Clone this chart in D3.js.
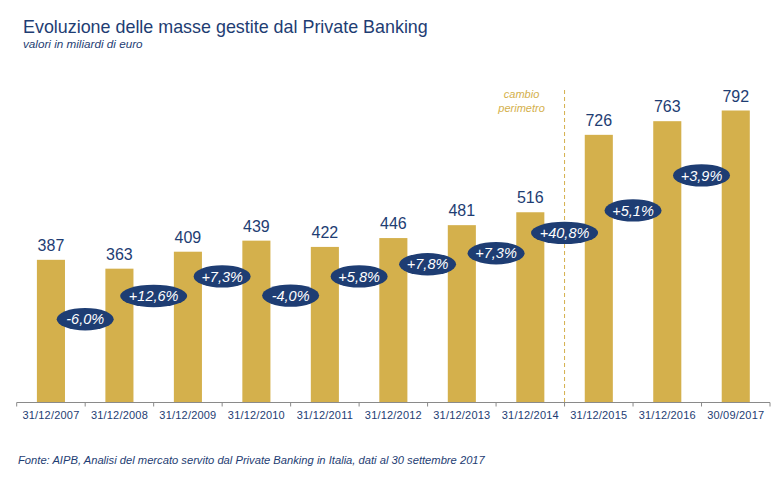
<!DOCTYPE html>
<html><head><meta charset="utf-8">
<script src="https://cdn.jsdelivr.net/npm/d3@7"></script>
<style>body{margin:0;background:#fff;}svg{display:block;font-family:"Liberation Sans",Arial,Helvetica,sans-serif;}</style>
</head><body><svg id="c" width="778" height="478"></svg>
<script>
const categories = ["31/12/2007","31/12/2008","31/12/2009","31/12/2010","31/12/2011","31/12/2012","31/12/2013","31/12/2014","31/12/2015","31/12/2016","30/09/2017"];
const values = [387,363,409,439,422,446,481,516,726,763,792];
const growthLabels = ["-6,0%","+12,6%","+7,3%","-4,0%","+5,8%","+7,8%","+7,3%","+40,8%","+5,1%","+3,9%"];
// vertical level (in value units) at which each growth badge sits
const growthLevel = [226,289,342,290,342,375,405,460,521,616];
const breakIndex = 8; // "cambio perimetro" before this category

const navy = "#1e3d73", gold = "#d4b04c";
const svg = d3.select("#c");
const x = d3.scaleBand().domain(categories).range([16.7, 770]).paddingInner(0.59).paddingOuter(0.295);
const y = d3.scaleLinear().domain([0, 792]).range([402.5, 110.5]);

svg.append("text").attr("x",23).attr("y",33).attr("fill",navy).attr("font-size",17.9).text("Evoluzione delle masse gestite dal Private Banking");
svg.append("text").attr("x",23).attr("y",48).attr("fill",navy).attr("font-size",11.7).attr("font-style","italic").text("valori in miliardi di euro");

svg.selectAll("rect.bar").data(values).join("rect").attr("class","bar")
  .attr("x",(d,i)=>x(categories[i])).attr("width",x.bandwidth())
  .attr("y",d=>y(d)).attr("height",d=>y(0)-y(d)).attr("fill",gold);

svg.selectAll("text.val").data(values).join("text").attr("class","val")
  .attr("x",(d,i)=>x(categories[i])+x.bandwidth()/2).attr("y",d=>y(d)-9)
  .attr("text-anchor","middle").attr("fill",navy).attr("font-size",16).text(d=>d);

// axis
const step = x.step();
const edges = categories.map(c=>x(c)-x.paddingOuter()*step).concat([770]);
const ax = svg.append("g");
ax.append("line").attr("x1",16.7).attr("x2",770).attr("y1",402.5).attr("y2",402.5).attr("stroke","#8a8a8a").attr("stroke-width",1);
ax.selectAll("line.tk").data(edges).join("line").attr("class","tk")
  .attr("x1",d=>d).attr("x2",d=>d).attr("y1",402.5).attr("y2",406.5).attr("stroke","#8a8a8a");
ax.selectAll("text").data(categories).join("text")
  .attr("x",d=>x(d)+x.bandwidth()/2).attr("y",419).attr("text-anchor","middle")
  .attr("fill",navy).attr("font-size",11).attr("letter-spacing",0.2).text(d=>d);

// break line
const bx = edges[breakIndex];
svg.append("line").attr("x1",bx).attr("x2",bx).attr("y1",90).attr("y2",402).attr("stroke",gold).attr("stroke-width",1).attr("stroke-dasharray","4,3");
svg.append("text").attr("x",bx-43).attr("y",98).attr("text-anchor","middle").attr("fill",gold).attr("font-size",11).attr("font-style","italic").text("cambio");
svg.append("text").attr("x",bx-43).attr("y",112).attr("text-anchor","middle").attr("fill",gold).attr("font-size",11).attr("font-style","italic").text("perimetro");

// badges
const badges = svg.selectAll("g.badge").data(growthLabels).join("g").attr("class","badge")
  .attr("transform",(d,i)=>`translate(${edges[i+1]},${y(growthLevel[i])})`);
badges.append("ellipse").attr("rx",d=>d.length>5?33.5:28.5).attr("ry",11.2).attr("fill",navy);
badges.append("text").attr("text-anchor","middle").attr("dy","0.36em").attr("fill","#fff")
  .attr("font-size",14.5).attr("font-style","italic").text(d=>d);

svg.append("text").attr("x",18).attr("y",464).attr("fill",navy).attr("font-size",11.2).attr("font-style","italic")
  .text("Fonte: AIPB, Analisi del mercato servito dal Private Banking in Italia, dati al 30 settembre 2017");
</script></body></html>
